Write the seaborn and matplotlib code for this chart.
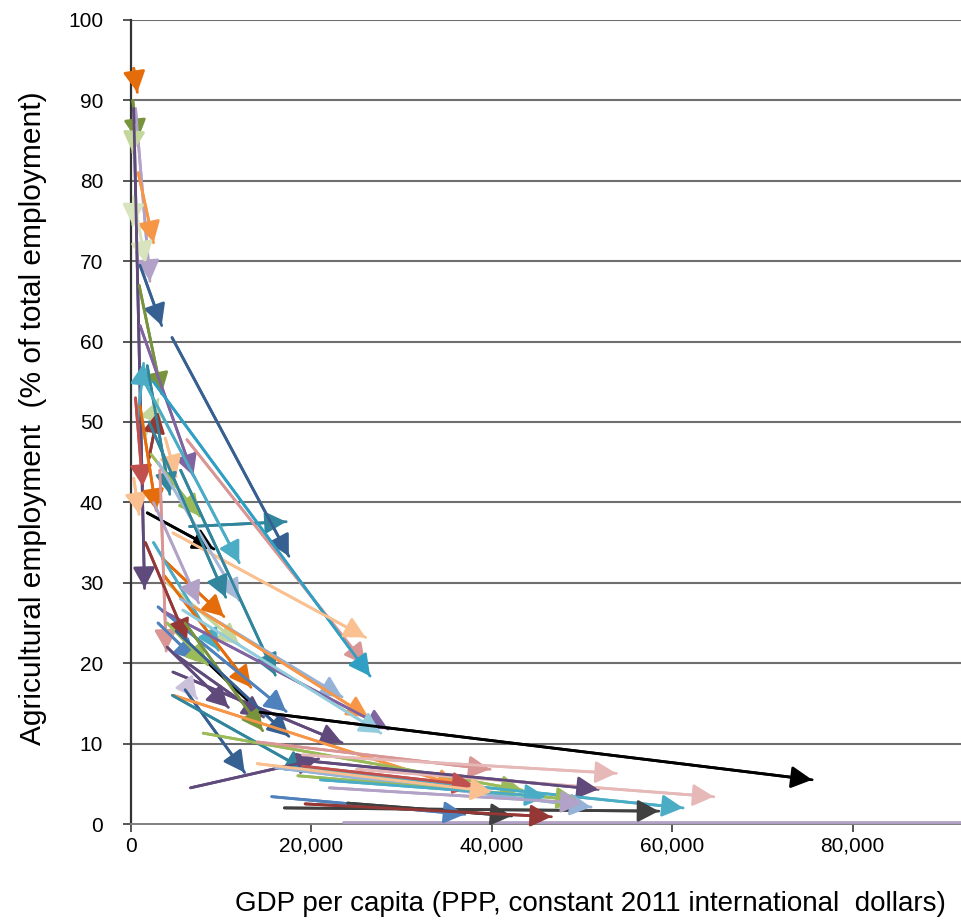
import numpy as np
import pandas as pd
import seaborn as sns
import matplotlib
matplotlib.use("Agg")
from matplotlib import pyplot as plt
from matplotlib.ticker import FuncFormatter

# start and end of each country's path (GDP per capita, agricultural employment share)
gdp_start = [300, 200, 500, 400, 300, 800, 600, 1000, 300, 700,
             900, 1500, 2000, 1000, 500, 3800, 1800, 300, 1000, 2200,
             6500, 1800, 4550, 6200, 2500, 4650, 1500, 3000, 2000, 3500,
             4000, 2500, 5500, 3600, 5500, 3000, 7000, 3500, 5750, 4650,
             3200, 1600, 3000, 4000, 2500, 4000, 5000, 6000, 5000, 6000,
             6000, 4700, 4600, 6600, 8000, 14000, 19000, 25000, 20000, 18000,
             17000, 16000, 18500, 19000, 15600, 24000, 19300, 23500, 21000, 22000,
             14000]
agr_start = [94, 90, 89, 87, 78, 81, 76, 69.5, 89, 50,
             67, 48, 45.5, 62, 53, 48, 57, 43, 52, 46,
             37, 38.7, 60.5, 47.8, 55, 36.2, 55, 45, 50, 33,
             30, 35, 44, 31, 28, 27, 27, 26.5, 26.6, 18.9,
             44, 35, 25, 25, 40, 22, 21, 25, 24, 17.5,
             16.7, 16, 16, 4.5, 11.3, 10.2, 8.6, 6.8, 7.8, 7.0,
             2.0, 7.0, 6.0, 7.2, 3.4, 2.6, 2.5, 0.3, 5.5, 4.5,
             7.5]
gdp_end = [700, 700, 2100, 200, 200, 2500, 1600, 3400, 1500, 1400,
           3400, 3000, 3000, 6900, 1300, 5000, 4300, 900, 2800, 7600,
           17200, 9200, 17500, 26000, 26500, 26000, 12000, 12000, 10500, 10300,
           12000, 9700, 16000, 13300, 23400, 17200, 26300, 28500, 27700, 23400,
           3900, 6200, 7200, 8500, 7500, 10800, 14700, 14600, 17500, 7300,
           12600, 36300, 19500, 20800, 43400, 39800, 53800, 64600, 51800, 61200,
           58500, 51000, 49500, 38000, 37000, 42200, 46600, 93000, 46000, 50000,
           40000]
agr_end = [91, 85, 67.5, 83.5, 74.5, 72.3, 69.8, 62, 29.3, 57.3,
           53.5, 52.8, 51.3, 43.3, 42, 43.2, 41, 38.5, 39, 38.3,
           37.6, 34.2, 33.3, 19.8, 18.4, 23.2, 32.5, 27.8, 28.2, 25.8,
           22.3, 21.6, 18.5, 17, 15.8, 14, 13.3, 11.8, 11.3, 10.1,
           21.5, 22.8, 20.4, 19.8, 27.5, 14.5, 13.3, 11.6, 10.9, 15.6,
           6.4, 4.7, 6.6, 8.1, 4.2, 6.8, 6.3, 3.4, 4.3, 2.0,
           1.6, 2.1, 3.0, 4.8, 1.2, 1.0, 0.9, 0.3, 3.4, 2.6,
           4.0]
series_color = ['#E46C0A', '#77933C', '#B3A2C7', '#C3D69B', '#D7E4BD', '#F79646', '#D7E4BD', '#376092', '#604A7B', '#4BACC6',
                '#77933C', '#C3D69B', '#953735', '#8064A2', '#C0504D', '#FAC090', '#31859C', '#FAC090', '#E46C0A', '#9BBB59',
                '#31859C', '#000000', '#376092', '#D99694', '#2FA0C4', '#FAC090', '#4BACC6', '#A5B8D8', '#31859C', '#E46C0A',
                '#C3D69B', '#4BACC6', '#31859C', '#E46C0A', '#95B3D7', '#4F81BD', '#F79646', '#8064A2', '#93CDDD', '#604A7B',
                '#D99694', '#953735', '#4F81BD', '#9BBB59', '#B3A2C7', '#604A7B', '#604A7B', '#77933C', '#376092', '#CCC1DA',
                '#376092', '#F79646', '#31859C', '#604A7B', '#9BBB59', '#D99694', '#E6B9B8', '#E6B9B8', '#604A7B', '#4BACC6',
                '#404040', '#95B3D7', '#9BBB59', '#C0504D', '#4F81BD', '#404040', '#953735', '#B3A2C7', '#4BACC6', '#B3A2C7',
                '#FAC090']

# one country with a kink in its path
black_gdp = [8750, 14300, 75500]
black_agr = [19.8, 13.9, 5.5]

rows = []
for i in range(len(gdp_start)):
    rows.append((i, 0, gdp_start[i], agr_start[i]))
    rows.append((i, 1, gdp_end[i], agr_end[i]))
k = len(gdp_start)
for j in range(len(black_gdp)):
    rows.append((k, j, black_gdp[j], black_agr[j]))
df = pd.DataFrame(rows, columns=['series', 'step', 'gdp', 'agr'])
palette = {i: c for i, c in enumerate(series_color)}
palette[k] = '#000000'

sns.set_style("white")
plt.rcParams['font.family'] = ['Liberation Sans', 'DejaVu Sans']
plt.rcParams['text.color'] = 'black'
plt.rcParams['axes.labelcolor'] = 'black'
plt.rcParams['xtick.color'] = 'black'
plt.rcParams['ytick.color'] = 'black'

fig = plt.figure(figsize=(9.61, 9.21), dpi=100)
ax = fig.add_axes([131 / 961, 1 - 824 / 921, 1 - 131 / 961, (824 - 20) / 921])

for y in range(10, 101, 10):
    ax.axhline(y, color='#6e6e6e', lw=1.5, zorder=1)

sns.lineplot(data=df, x='gdp', y='agr', hue='series', units='series', estimator=None,
             sort=False, palette=palette, legend=False, lw=2.0, ax=ax, zorder=3)

# arrow heads at the last point of each path
for s, g in df.groupby('series'):
    g = g.sort_values('step')
    p0 = g.iloc[-2]
    p1 = g.iloc[-1]
    ax.annotate('', xy=(p1.gdp, p1.agr), xytext=(p0.gdp, p0.agr),
                arrowprops=dict(arrowstyle='-|>,head_length=0.85,head_width=0.45',
                                color=palette[s], lw=2.0, shrinkA=0, shrinkB=0,
                                mutation_scale=15),
                zorder=4)

ax.set_xlim(0, 92000)
ax.set_ylim(0, 100)
ax.set_yticks(range(0, 101, 10))
ax.set_xticks(range(0, 80001, 20000))
ax.xaxis.set_major_formatter(FuncFormatter(lambda v, p: f'{int(v):,}'))

for side in ['top', 'right']:
    ax.spines[side].set_visible(False)
ax.spines['left'].set_color('#333333')
ax.spines['left'].set_linewidth(1.6)
ax.spines['left'].set_zorder(2)
ax.spines['bottom'].set_color('#808080')
ax.spines['bottom'].set_linewidth(1.4)

ax.tick_params(axis='both', direction='out', length=6, width=1.4, color='#555555',
               labelsize=15, bottom=True, left=True)
ax.tick_params(axis='y', pad=14)
ax.tick_params(axis='x', pad=3)

ax.set_xlabel('GDP per capita (PPP, constant 2011 international  dollars)', fontsize=20)
ax.set_ylabel('Agricultural employment  (% of total employment)', fontsize=21.5)
ax.xaxis.set_label_coords(0.553, -0.083)
ax.yaxis.set_label_coords(-0.101, 0.505)

fig.savefig('out.png', dpi=100)
